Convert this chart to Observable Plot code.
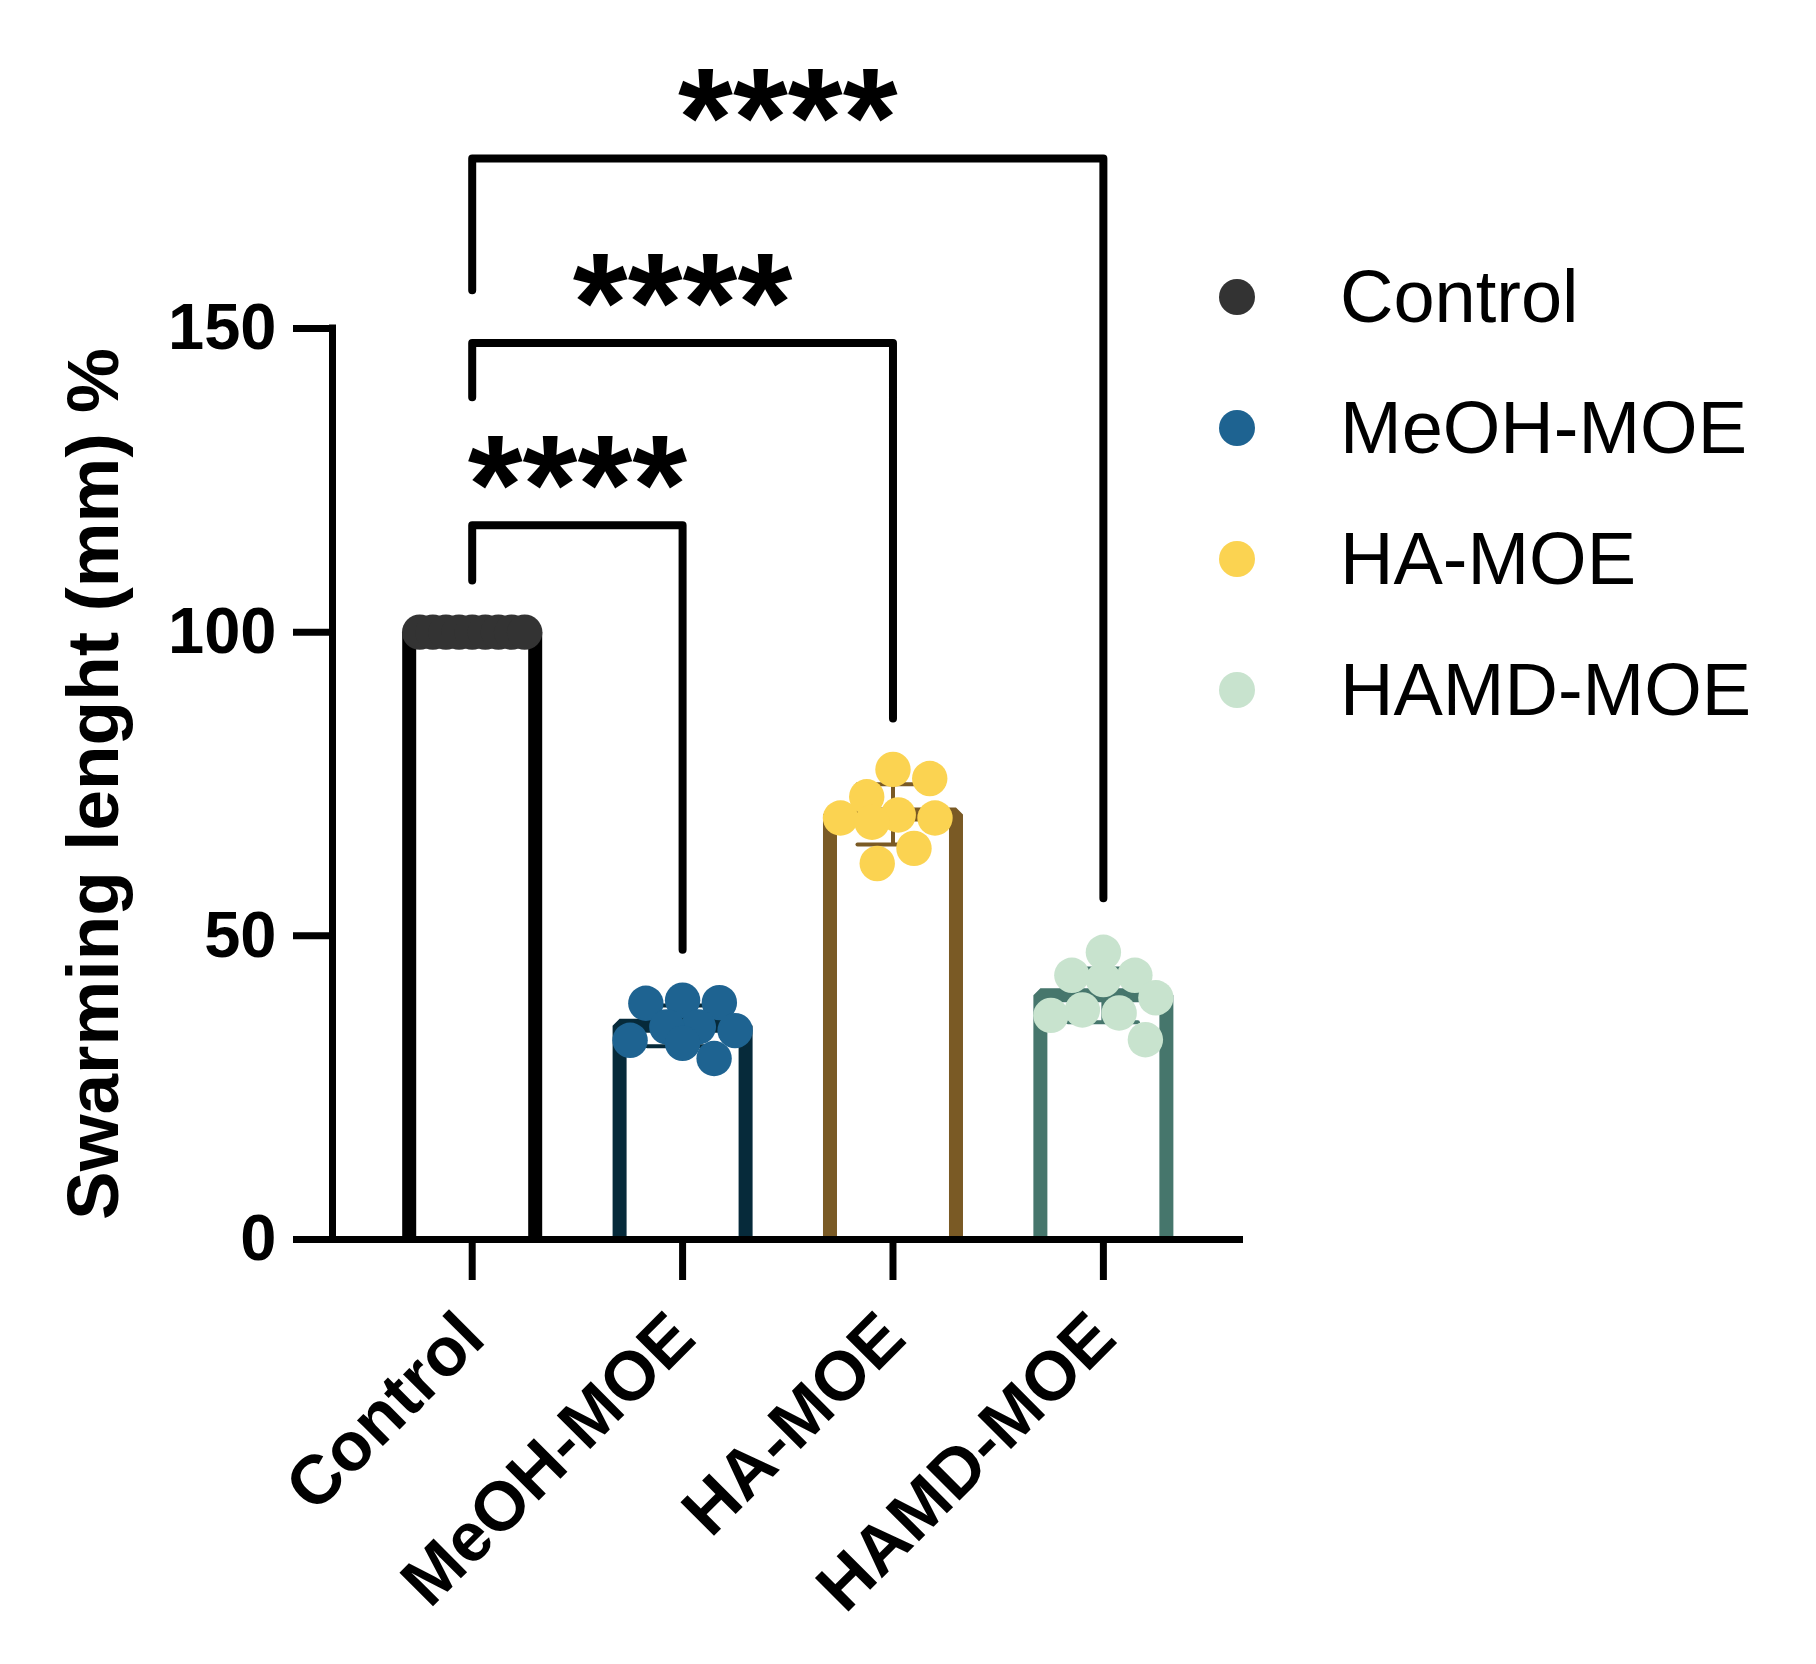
<!DOCTYPE html>
<html><head><meta charset="utf-8">
<script src="https://cdn.jsdelivr.net/npm/d3@7"></script>
<script src="https://cdn.jsdelivr.net/npm/@observablehq/plot@0.6"></script>
<style>
html,body{margin:0;padding:0;background:#fff;}
#wrap{position:relative;width:1816px;height:1664px;font-family:"Liberation Sans",Arial,sans-serif;}
#wrap svg{position:absolute;left:0;top:0;}
.item{position:absolute;height:0;display:flex;align-items:center;}
.item .dot{position:absolute;width:36px;height:36px;border-radius:50%;top:-18px;}
.item .lab{position:absolute;font-size:74px;line-height:1;white-space:nowrap;color:#000;top:-0.5em;}
</style></head>
<body><div id="wrap"></div>
<script>
// ---------- data ----------
const groups = ["Control", "MeOH-MOE", "HA-MOE", "HAMD-MOE"];
const controlValues = [100, 100, 100, 100, 100, 100, 100, 100, 100];
const meohValues = [39.4, 39.0, 38.9, 35.0, 35.0, 34.4, 32.8, 32.3, 29.8];
const haValues = [77.4, 75.9, 72.9, 69.9, 69.4, 69.4, 68.7, 64.4, 61.9];
const hamdValues = [47.3, 43.5, 43.5, 42.8, 39.8, 37.8, 37.3, 36.9, 32.9];
const yTicks = [0, 50, 100, 150];
const yTitle = "Swarming lenght (mm) %";
const compFrom = ["Control", "Control", "Control"];
const compTo = ["MeOH-MOE", "HA-MOE", "HAMD-MOE"];
const compLevel = [117.6, 147.6, 178.0];
const compLeftEnd = [108.5, 138.7, 156.3];
const compRightEnd = [47.7, 85.8, 56.2];
const compLabel = ["****", "****", "****"];

// ---------- styles ----------
const dotColors = ["#333333", "#1e6391", "#fbd351", "#c8e3ce"];
const barColors = ["#000000", "#062a3a", "#7a5a25", "#46766c"];
const FONT = "'Liberation Sans', Arial, sans-serif";

// ---------- layout ----------
const W = 1816, H = 1664;
const mL = 332, mR = 573, mT = 328, mB = 425;
const xDom = [-0.664, 3.666];
const kx = (W - mL - mR) / (xDom[1] - xDom[0]); // px per category unit
const ky = (H - mT - mB) / (yTicks[yTicks.length - 1] - yTicks[0]); // px per value unit
const R = 17.7;
const barHalf = 63 / kx;
const capHalf = 35 / kx;

const valuesByGroup = [controlValues, meohValues, haValues, hamdValues];

// beeswarm-like horizontal spread computed from the values
function swarm(vals, maxOff, D) {
  const n = vals.length;
  const off = new Array(n).fill(0);
  if ((d3.deviation(vals) || 0) === 0) {
    const sp = Math.min(D, 2 * maxOff / (n - 1));
    vals.forEach((v, i) => off[i] = (i - (n - 1) / 2) * sp / kx);
    return off;
  }
  const order = d3.range(n).sort((a, b) => vals[b] - vals[a]);
  const placed = [];
  const cands = d3.range(-10, 11).map(k => k * maxOff / 10);
  for (const i of order) {
    const y = vals[i] * ky;
    const prefer = d3.sum(placed, p => p.x) <= 0 ? 1 : -1;
    const sorted = cands.slice().sort((a, b) => (Math.abs(a) * 1000 - prefer * a) - (Math.abs(b) * 1000 - prefer * b));
    let best = null, fb = 0, fbScore = -1;
    for (const c of sorted) {
      const md = placed.length ? d3.min(placed, p => Math.hypot(p.x - c, p.y - y)) : Infinity;
      if (md >= D) { best = c; break; }
      if (md > fbScore + 1e-9) { fbScore = md; fb = c; }
    }
    if (best === null) best = fb;
    placed.push({x: best, y});
    off[i] = best / kx;
  }
  return off;
}

const points = groups.flatMap((g, gi) => {
  const vals = valuesByGroup[gi];
  const offs = swarm(vals, 52.5, 36);
  return vals.map((v, j) => ({g, gi, v, x: gi + offs[j]}));
});
const stats = groups.map((g, gi) => ({
  g, gi, mean: d3.mean(valuesByGroup[gi]), sd: d3.deviation(valuesByGroup[gi]) || 0
}));

const marks = [];
// bars (open at the bottom)
stats.forEach(s => {
  const outline = [
    {x: s.gi - barHalf, y: 0}, {x: s.gi - barHalf, y: s.mean},
    {x: s.gi + barHalf, y: s.mean}, {x: s.gi + barHalf, y: 0}
  ];
  marks.push(Plot.line(outline, {x: "x", y: "y", stroke: barColors[s.gi], strokeWidth: 14, strokeLinejoin: "bevel", strokeLinecap: "butt", curve: "linear"}));
});
// error bars (mean ± SD)
stats.forEach(s => {
  const c = barColors[s.gi];
  marks.push(Plot.ruleX([s], {x: "gi", y1: d => d.mean - d.sd, y2: d => d.mean + d.sd, stroke: c, strokeWidth: 4}));
  marks.push(Plot.ruleY([s.mean - s.sd, s.mean + s.sd], {y: d => d, x1: s.gi - capHalf, x2: s.gi + capHalf, stroke: c, strokeWidth: 4, strokeLinecap: "round"}));
});
// axes
marks.push(Plot.ruleY([0], {stroke: "#000", strokeWidth: 7}));
marks.push(Plot.ruleX([xDom[0]], {y1: yTicks[0], y2: yTicks[yTicks.length - 1], stroke: "#000", strokeWidth: 7, strokeLinecap: "square"}));
marks.push(Plot.axisY({ticks: yTicks, tickSize: 39, tickPadding: 17, strokeWidth: 7, fontSize: 65, fontWeight: "bold", fontFamily: FONT, label: null, tickFormat: d => d}));
marks.push(Plot.axisX({ticks: d3.range(groups.length), tickSize: 41, strokeWidth: 7, tickFormat: () => "", label: null}));
// x category labels
marks.push(Plot.text(groups, {x: (d, i) => i, frameAnchor: "bottom", text: d => d, rotate: -45, textAnchor: "end", lineAnchor: "middle", dy: 86, fontSize: 69, fontWeight: "bold", fontFamily: FONT, fill: "#000"}));
// y title
marks.push(Plot.text([yTitle], {frameAnchor: "left", text: d => d, rotate: -90, dx: -238, textAnchor: "middle", lineAnchor: "middle", fontSize: 73, fontWeight: "bold", fontFamily: FONT, fill: "#000"}));
// points
stats.forEach(s => {
  marks.push(Plot.dot(points.filter(p => p.gi === s.gi), {x: "x", y: "v", r: R, fill: dotColors[s.gi], stroke: null}));
});
// significance brackets
const comps = compTo.map((t, i) => ({
  i, a: groups.indexOf(compFrom[i]), b: groups.indexOf(t),
  y: compLevel[i], l: compLeftEnd[i], r: compRightEnd[i], label: compLabel[i]
}));
comps.forEach(c => {
  const path = [{x: c.a, y: c.l}, {x: c.a, y: c.y}, {x: c.b, y: c.y}, {x: c.b, y: c.r}];
  marks.push(Plot.line(path, {x: "x", y: "y", stroke: "#000", strokeWidth: 8, strokeLinejoin: "round", strokeLinecap: "round"}));
});
marks.push(Plot.text(comps, {x: d => (d.a + d.b) / 2, y: "y", text: "label", textAnchor: "middle", lineAnchor: "bottom", dy: 8, fontSize: 141, fontWeight: "bold", fontFamily: FONT, fill: "#000"}));

const chart = Plot.plot({
  width: W, height: H,
  marginLeft: mL, marginRight: mR, marginTop: mT, marginBottom: mB,
  style: {fontFamily: FONT, background: "#fff", overflow: "visible"},
  x: {type: "linear", domain: xDom},
  y: {domain: [yTicks[0], yTicks[yTicks.length - 1]]},
  marks
});
const wrap = document.getElementById("wrap");
wrap.appendChild(chart);

// legend
const legendTop = [297, 428, 559, 690];
groups.forEach((g, i) => {
  const item = document.createElement("div");
  item.className = "item";
  item.style.left = "1237px";
  item.style.top = legendTop[i] + "px";
  const dot = document.createElement("div");
  dot.className = "dot";
  dot.style.left = "-18px";
  dot.style.background = dotColors[i];
  const lab = document.createElement("div");
  lab.className = "lab";
  lab.style.left = "103px";
  lab.textContent = g;
  item.appendChild(dot); item.appendChild(lab);
  wrap.appendChild(item);
});
</script></body></html>
